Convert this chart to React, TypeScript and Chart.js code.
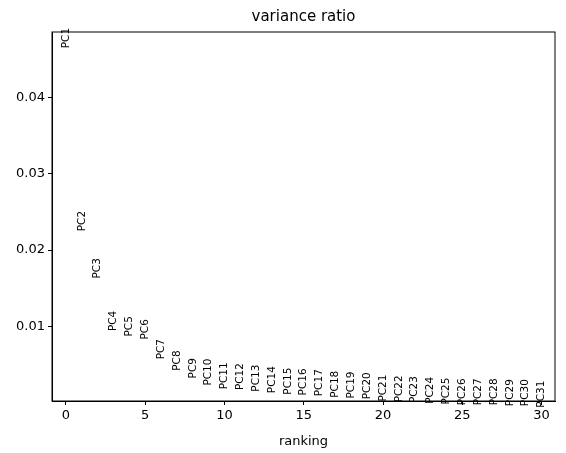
import React, { useEffect, useRef } from "react";
import { Chart, registerables } from "chart.js";

Chart.register(...registerables);

const pcLabels = Array.from({ length: 31 }, (_, i) => "PC" + (i + 1));
const rankings = Array.from({ length: 31 }, (_, i) => i);
const varianceRatio = [
  0.0478, 0.0238, 0.0176, 0.0107, 0.01, 0.0096, 0.007, 0.0055, 0.0045, 0.004,
  0.0035, 0.0034, 0.0032, 0.003, 0.0028, 0.0027, 0.0026, 0.0024, 0.0023, 0.0022,
  0.0019, 0.0018, 0.0017, 0.0016, 0.0015, 0.0014, 0.0014, 0.0014, 0.0013, 0.0013,
  0.0011,
];
const yTicks = [0.01, 0.02, 0.03, 0.04];
const xTicks = [0, 5, 10, 15, 20, 25, 30];

const FONT = "'DejaVu Sans', sans-serif";

const textPlugin = {
  id: "pcText",
  afterDatasetsDraw(chart: any) {
    const { ctx, scales, chartArea } = chart;
    ctx.save();
    ctx.strokeStyle = "#000";
    ctx.lineWidth = 1;
    ctx.strokeRect(chartArea.left, chartArea.top, chartArea.right - chartArea.left, chartArea.bottom - chartArea.top);
    ctx.fillStyle = "#000";
    ctx.font = `10.5px ${FONT}`;
    ctx.textAlign = "center";
    ctx.textBaseline = "middle";
    pcLabels.forEach((lab, i) => {
      const x = scales.x.getPixelForValue(rankings[i]);
      const y = scales.y.getPixelForValue(varianceRatio[i]);
      ctx.save();
      ctx.translate(x, y);
      ctx.rotate(-Math.PI / 2);
      ctx.fillText(lab, 0, 0);
      ctx.restore();
    });
    ctx.font = `15px ${FONT}`;
    ctx.textBaseline = "alphabetic";
    ctx.fillText("variance ratio", (chartArea.left + chartArea.right) / 2, 21);
    ctx.restore();
  },
};

export default function App() {
  const chartRef = useRef<HTMLCanvasElement | null>(null);

  useEffect(() => {
    const ctx = chartRef.current?.getContext("2d");
    if (!ctx) return;
    const chart = new Chart(ctx, {
      type: "scatter",
      data: {
        datasets: [
          {
            data: rankings.map((r, i) => ({ x: r, y: varianceRatio[i] })),
            pointRadius: 0,
            pointHoverRadius: 0,
          },
        ],
      },
      options: {
        animation: false,
        responsive: true,
        maintainAspectRatio: false,
        layout: { padding: { top: 32, right: 11, left: 0, bottom: 0 } },
        plugins: { legend: { display: false }, tooltip: { enabled: false } },
        scales: {
          x: {
            type: "linear",
            min: -0.88,
            max: 30.85,
            afterBuildTicks: (s: any) => {
              s.ticks = xTicks.map((v) => ({ value: v }));
            },
            afterFit: (s: any) => {
              s.height = 52;
            },
            grid: { drawOnChartArea: false, tickLength: 4, color: "#000" },
            border: { color: "#000" },
            ticks: { color: "#000", font: { family: FONT, size: 13 }, maxRotation: 0, padding: 3 },
            title: { display: true, text: "ranking", color: "#000", font: { family: FONT, size: 13 }, padding: { top: 0 } },
          },
          y: {
            type: "linear",
            min: 0.0002,
            max: 0.0486,
            afterBuildTicks: (s: any) => {
              s.ticks = yTicks.map((v) => ({ value: v }));
            },
            afterFit: (s: any) => {
              s.width = 52;
            },
            grid: { drawOnChartArea: false, tickLength: 4, color: "#000" },
            border: { color: "#000" },
            ticks: {
              color: "#000",
              font: { family: FONT, size: 13 },
              padding: 3,
              callback: (v: any) => Number(v).toFixed(2),
            },
          },
        },
      },
      plugins: [textPlugin],
    });
    return () => chart.destroy();
  }, []);

  return (
    <div style={{ position: "fixed", left: 0, top: 0, width: 566, height: 453, background: "#fff" }}>
      <canvas ref={chartRef}></canvas>
    </div>
  );
}
